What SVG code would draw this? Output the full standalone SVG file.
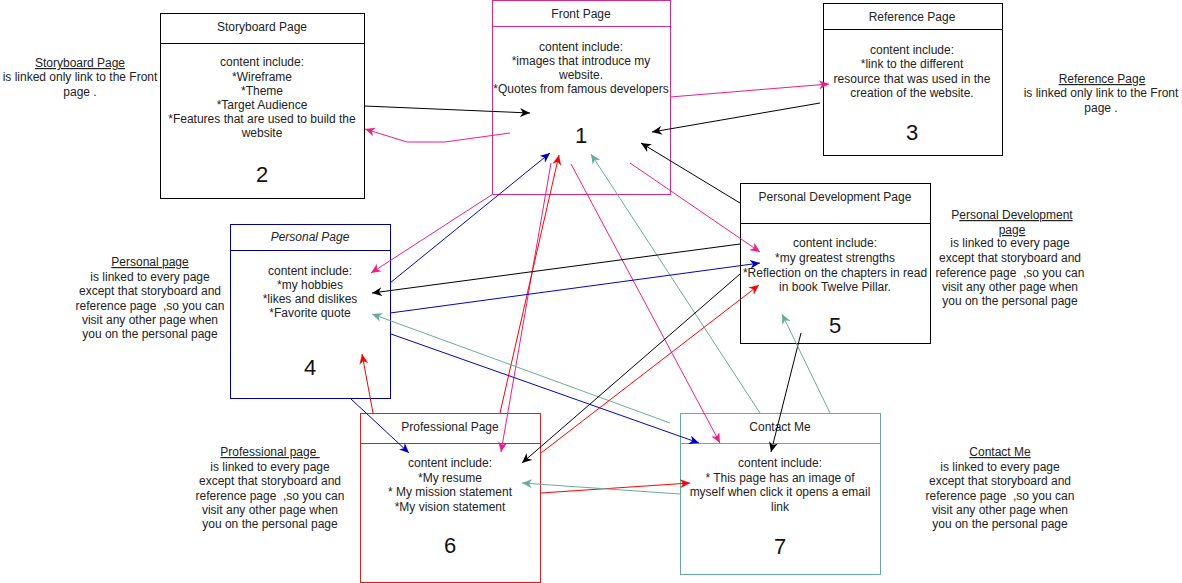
<svg xmlns="http://www.w3.org/2000/svg" width="1182" height="583" viewBox="0 0 1182 583">
<style>
text{font-family:"Liberation Sans",Arial,sans-serif;font-size:12px;fill:#222;text-anchor:middle}
#notes text{white-space:pre}
.num{font-size:22px;fill:#111}
.box{fill:#fff;stroke-width:1}
.c{fill:none;stroke-width:1}
.k{stroke:#000}
.p{stroke:#ee1c86}
.b{stroke:#0000c8}
.r{stroke:#ff0000}
.t{stroke:#67ab9f}
</style>
<defs>
<marker id="ak" markerUnits="userSpaceOnUse" markerWidth="11" markerHeight="9" refX="10" refY="4.5" orient="auto"><path d="M0,0 L10,4.5 L0,9 L3,4.5 Z" fill="#000"/></marker>
<marker id="ap" markerUnits="userSpaceOnUse" markerWidth="11" markerHeight="9" refX="10" refY="4.5" orient="auto"><path d="M0,0 L10,4.5 L0,9 L3,4.5 Z" fill="#ee1c86"/></marker>
<marker id="ab" markerUnits="userSpaceOnUse" markerWidth="11" markerHeight="9" refX="10" refY="4.5" orient="auto"><path d="M0,0 L10,4.5 L0,9 L3,4.5 Z" fill="#0000c8"/></marker>
<marker id="ar" markerUnits="userSpaceOnUse" markerWidth="11" markerHeight="9" refX="10" refY="4.5" orient="auto"><path d="M0,0 L10,4.5 L0,9 L3,4.5 Z" fill="#ff0000"/></marker>
<marker id="at" markerUnits="userSpaceOnUse" markerWidth="11" markerHeight="9" refX="10" refY="4.5" orient="auto"><path d="M0,0 L10,4.5 L0,9 L3,4.5 Z" fill="#67ab9f"/></marker>
</defs>
<rect width="1182" height="583" fill="#fff"/>

<g id="node-storyboard">
<rect class="box" x="160.5" y="13.5" width="204" height="185" stroke="#000"/>
<line x1="160.5" y1="43.5" x2="364.5" y2="43.5" stroke="#000"/>
<text x="262" y="31">Storyboard Page</text>
<text x="262" y="66">content include:</text>
<text x="262" y="81">*Wireframe</text>
<text x="262" y="95">*Theme</text>
<text x="262" y="109">*Target Audience</text>
<text x="262" y="123">*Features that are used to build the</text>
<text x="262" y="137">website</text>
<text class="num" x="262" y="182">2</text>
</g>

<g id="node-front">
<rect class="box" x="492.5" y="0.5" width="178" height="194" stroke="#d42a86"/>
<line x1="492.5" y1="26.5" x2="670.5" y2="26.5" stroke="#d42a86"/>
<text x="581" y="18">Front Page</text>
<text x="581" y="51">content include:</text>
<text x="581" y="65">*images that introduce my</text>
<text x="581" y="79">website.</text>
<text x="581" y="93">*Quotes from famous developers</text>
<text class="num" x="581" y="143">1</text>
</g>

<g id="node-reference">
<rect class="box" x="823.5" y="3.5" width="179" height="152" stroke="#000"/>
<line x1="823.5" y1="29.5" x2="1002.5" y2="29.5" stroke="#000"/>
<text x="912" y="21">Reference Page</text>
<text x="912" y="54">content include:</text>
<text x="912" y="68">*link to the different</text>
<text x="912" y="83">resource that was used in the</text>
<text x="912" y="97">creation of the website.</text>
<text class="num" x="912" y="140">3</text>
</g>

<g id="node-personal">
<rect class="box" x="230.5" y="224.5" width="160" height="174" stroke="#000099"/>
<line x1="230.5" y1="250.5" x2="390.5" y2="250.5" stroke="#000099"/>
<text x="310" y="241" font-style="italic">Personal Page</text>
<text x="310" y="275">content include:</text>
<text x="310" y="289">*my hobbies</text>
<text x="310" y="303">*likes and dislikes</text>
<text x="310" y="317">*Favorite quote</text>
<text class="num" x="310" y="375">4</text>
</g>

<g id="node-persdev">
<rect class="box" x="740.5" y="183.5" width="190" height="160" stroke="#000"/>
<line x1="740.5" y1="223.5" x2="930.5" y2="223.5" stroke="#000"/>
<text x="835" y="201">Personal Development Page</text>
<text x="835" y="247">content include:</text>
<text x="835" y="262">*my greatest strengths</text>
<text x="835" y="277">*Reflection on the chapters in read</text>
<text x="835" y="291">in book Twelve Pillar.</text>
<text class="num" x="835" y="333">5</text>
</g>

<g id="node-professional">
<rect class="box" x="360.5" y="413.5" width="180" height="169" stroke="#e01e1e"/>
<line x1="360.5" y1="443.5" x2="540.5" y2="443.5" stroke="#e01e1e"/>
<text x="450" y="431">Professional Page</text>
<text x="450" y="467">content include:</text>
<text x="450" y="482">*My resume</text>
<text x="450" y="496">* My mission statement</text>
<text x="450" y="511">*My vision statement</text>
<text class="num" x="450" y="553">6</text>
</g>

<g id="node-contact">
<rect class="box" x="680.5" y="413.5" width="200" height="161" stroke="#67ab9f"/>
<line x1="680.5" y1="443.5" x2="880.5" y2="443.5" stroke="#67ab9f"/>
<text x="780" y="431">Contact Me</text>
<text x="780" y="467">content include:</text>
<text x="780" y="482">* This page has an image of</text>
<text x="780" y="496">myself when click it opens a email</text>
<text x="780" y="511">link</text>
<text class="num" x="780" y="554">7</text>
</g>

<g id="connectors">
<line class="c k" x1="364" y1="106" x2="530" y2="113" marker-end="url(#ak)"/>
<polyline class="c p" points="510,133 445,142 407,142 365,129" marker-end="url(#ap)"/>
<line class="c p" x1="670" y1="97" x2="829" y2="84" marker-end="url(#ap)"/>
<line class="c k" x1="820" y1="103" x2="652" y2="132" marker-end="url(#ak)"/>
<line class="c k" x1="740" y1="203" x2="641" y2="143" marker-end="url(#ak)"/>
<line class="c p" x1="630" y1="163" x2="760" y2="252" marker-end="url(#ap)"/>
<line class="c p" x1="493" y1="194" x2="371" y2="273" marker-end="url(#ap)"/>
<line class="c b" x1="390" y1="283" x2="550" y2="153" marker-end="url(#ab)"/>
<line class="c p" x1="551" y1="163" x2="501" y2="452" marker-end="url(#ap)"/>
<line class="c r" x1="500" y1="413" x2="559" y2="155" marker-end="url(#ar)"/>
<line class="c p" x1="571" y1="164" x2="720" y2="443" marker-end="url(#ap)"/>
<line class="c t" x1="760" y1="413" x2="591" y2="154" marker-end="url(#at)"/>
<line class="c k" x1="740" y1="244" x2="372" y2="293" marker-end="url(#ak)"/>
<line class="c b" x1="390" y1="313" x2="760" y2="263" marker-end="url(#ab)"/>
<line class="c t" x1="670" y1="423" x2="372" y2="314" marker-end="url(#at)"/>
<line class="c b" x1="391" y1="334" x2="699" y2="443" marker-end="url(#ab)"/>
<line class="c r" x1="373" y1="413" x2="362" y2="354" marker-end="url(#ar)"/>
<line class="c b" x1="351" y1="399" x2="409" y2="453" marker-end="url(#ab)"/>
<line class="c k" x1="740" y1="274" x2="522" y2="463" marker-end="url(#ak)"/>
<line class="c r" x1="541" y1="453" x2="759" y2="285" marker-end="url(#ar)"/>
<line class="c r" x1="541" y1="493" x2="690" y2="483" marker-end="url(#ar)"/>
<line class="c t" x1="680" y1="494" x2="522" y2="483" marker-end="url(#at)"/>
<line class="c k" x1="801" y1="333" x2="771" y2="452" marker-end="url(#ak)"/>
<line class="c t" x1="830" y1="413" x2="782" y2="314" marker-end="url(#at)"/>
</g>

<g id="notes">
<text x="80" y="67" text-decoration="underline">Storyboard Page</text>
<text x="80" y="81">is linked only link to the Front</text>
<text x="80" y="96">page .</text>
<text x="1102" y="83" text-decoration="underline">Reference Page</text>
<text x="1101" y="97">is linked only link to the Front</text>
<text x="1101" y="112">page .</text>
<text x="150" y="266" text-decoration="underline">Personal page</text>
<text x="150" y="281">is linked to every page</text>
<text x="150" y="295">except that storyboard and</text>
<text x="150" y="310" xml:space="preserve">reference page  ,so you can</text>
<text x="150" y="324">visit any other page when</text>
<text x="150" y="338">you on the personal page</text>
<text x="1012" y="219">P<tspan text-decoration="underline">ersonal Development</tspan></text>
<text x="1012" y="234" text-decoration="underline">page</text>
<text x="1010" y="247">is linked to every page</text>
<text x="1010" y="262">except that storyboard and</text>
<text x="1010" y="277" xml:space="preserve">reference page  ,so you can</text>
<text x="1010" y="291">visit any other page when</text>
<text x="1010" y="305">you on the personal page</text>
<text x="270" y="456" text-decoration="underline" xml:space="preserve">Professional page </text>
<text x="270" y="471">is linked to every page</text>
<text x="270" y="485">except that storyboard and</text>
<text x="270" y="500" xml:space="preserve">reference page  ,so you can</text>
<text x="270" y="514">visit any other page when</text>
<text x="270" y="528">you on the personal page</text>
<text x="1000" y="456" text-decoration="underline">Contact Me</text>
<text x="1000" y="471">is linked to every page</text>
<text x="1000" y="485">except that storyboard and</text>
<text x="1000" y="500" xml:space="preserve">reference page  ,so you can</text>
<text x="1000" y="514">visit any other page when</text>
<text x="1000" y="528">you on the personal page</text>
</g>
</svg>
